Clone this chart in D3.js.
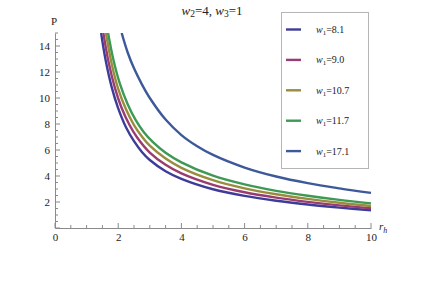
<!DOCTYPE html>
<html><head><meta charset="utf-8">
<script src="https://cdn.jsdelivr.net/npm/d3@7"></script>
<style>body{margin:0;background:#fff}svg{display:block}
svg text{font-family:"Liberation Serif" !important;fill:#222}</style>
</head><body><svg id="c" width="436" height="295"></svg>
<script>
const seriesNames = ["8.1","9.0","10.7","11.7","17.1"];
const colors = ["#3d3d99","#993d71","#998c3d","#3d9954","#3d5999"];
const rVals = [
  [1.46,1.6,1.8,2,2.25,2.5,2.75,3,3.5,4,5,6,7,8,9,10],
  [1.53,1.7,1.9,2.1,2.35,2.6,3,3.5,4,5,6,7,8,9,10],
  [1.61,1.8,2,2.25,2.5,2.75,3,3.5,4,5,6,7,8,9,10],
  [1.68,1.85,2.05,2.3,2.55,2.8,3.1,3.5,4,5,6,7,8,9,10],
  [2.11,2.3,2.5,2.75,3,3.5,4,4.5,5,6,7,8,9,10]
];
const pVals = [
  [15,12.94,10.78,9.2,7.73,6.68,5.85,5.23,4.37,3.78,2.98,2.47,2.1,1.81,1.57,1.36],
  [15,12.71,10.74,9.29,7.96,6.96,5.8,4.86,4.2,3.32,2.75,2.34,2.01,1.74,1.52],
  [15,12.56,10.7,9.11,7.92,7.04,6.33,5.34,4.63,3.68,3.05,2.6,2.24,1.94,1.69],
  [15,12.92,11.12,9.52,8.31,7.41,6.6,5.79,5.05,4.02,3.35,2.86,2.48,2.16,1.89],
  [15,13.5,12.28,11.05,10.0,8.34,7.15,6.29,5.62,4.65,3.96,3.45,3.05,2.7]
];
const xTicks = [0,2,4,6,8,10];
const yTicks = [2,4,6,8,10,12,14];

const FF = "Liberation Serif";
const svg = d3.select("#c");
const x = d3.scaleLinear().domain([0,10]).range([55,371]);
const y = d3.scaleLinear().domain([0,15]).range([228,33]);

svg.append("defs").append("clipPath").attr("id","clip")
  .append("rect").attr("x",55).attr("y",33).attr("width",330).attr("height",195);

const axisColor = "#8a8a8a";
// x axis
const xa = svg.append("g").attr("transform","translate(0,228)");
xa.call(d3.axisBottom(x).tickValues(xTicks).tickSize(0).tickPadding(5).tickFormat(d3.format("d")));
xa.attr("font-family",FF);
xa.select(".domain").attr("stroke",axisColor);
xa.selectAll("text").style("font-family",FF).style("font-size","11px").attr("fill","#222");
xa.selectAll(".minor").data(d3.range(0,10.01,0.5)).enter().append("line")
  .attr("x1",d=>x(d)).attr("x2",d=>x(d)).attr("y1",0)
  .attr("y2",d=>Math.abs(d%2)<1e-9?-5:-3).attr("stroke",axisColor);
// y axis
const ya = svg.append("g").attr("transform","translate(55,0)");
ya.call(d3.axisLeft(y).tickValues(yTicks).tickSize(0).tickPadding(5).tickFormat(d3.format("d")));
ya.attr("font-family",FF);
ya.select(".domain").attr("stroke",axisColor);
ya.selectAll("text").style("font-family",FF).style("font-size","11px").attr("fill","#222");
ya.selectAll(".minor").data(d3.range(0,15.01,0.5)).enter().append("line")
  .attr("y1",d=>y(d)).attr("y2",d=>y(d)).attr("x1",0)
  .attr("x2",d=>Math.abs(d%2)<1e-9?5:3).attr("stroke",axisColor);

// curves
const line = d3.line().x(d=>x(d[0])).y(d=>y(d[1])).curve(d3.curveCatmullRom.alpha(0.5));
const g = svg.append("g").attr("clip-path","url(#clip)");
seriesNames.forEach((n,i)=>{
  const pts = rVals[i].map((r,j)=>[r,pVals[i][j]]);
  g.append("path").datum(pts).attr("d",line).attr("fill","none")
    .attr("stroke",colors[i]).attr("stroke-width",2.4).attr("stroke-linejoin","round");
});

// axis labels
svg.append("text").attr("x",54).attr("y",25).attr("text-anchor","middle")
  .style("font-family",FF).style("font-size","11px").text("P");
const rl = svg.append("text").attr("x",379).attr("y",230).style("font-family",FF).style("font-size","11px").style("font-style","italic");
rl.append("tspan").text("r");
rl.append("tspan").attr("dy",3).style("font-size","8px").text("h");

// title
const t = svg.append("text").attr("x",212).attr("y",15).attr("text-anchor","middle").style("font-family",FF).style("font-size","13px");
t.append("tspan").style("font-style","italic").text("w");
t.append("tspan").attr("dy",2).style("font-size","9.5px").text("2");
t.append("tspan").attr("dy",-2).text("=4, ");
t.append("tspan").style("font-style","italic").text("w");
t.append("tspan").attr("dy",2).style("font-size","9.5px").text("3");
t.append("tspan").attr("dy",-2).text("=1");

// legend
const lg = svg.append("g");
lg.append("rect").attr("x",281.5).attr("y",12.5).attr("width",87).attr("height",156)
  .attr("fill","#fff").attr("stroke","#b5b5b5").attr("stroke-width",1);
seriesNames.forEach((n,i)=>{
  const yy = 29.5 + i*30.4;
  lg.append("line").attr("x1",286).attr("x2",301).attr("y1",yy).attr("y2",yy)
    .attr("stroke",colors[i]).attr("stroke-width",2.4);
  const tx = lg.append("text").attr("x",316).attr("y",yy+3.5).style("font-family",FF).style("font-size","10px");
  tx.append("tspan").style("font-style","italic").text("w");
  tx.append("tspan").attr("dy",2).style("font-size","7px").text("1");
  tx.append("tspan").attr("dy",-2).text("=" + n);
});
</script></body></html>
